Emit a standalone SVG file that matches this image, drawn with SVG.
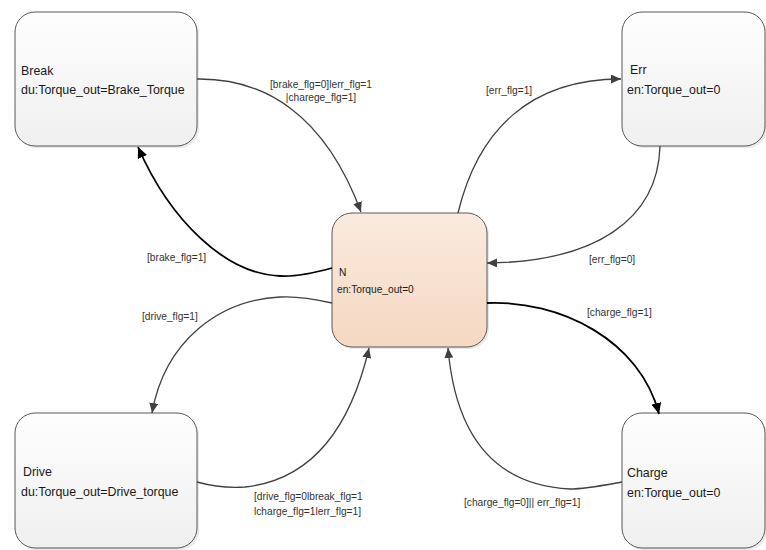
<svg xmlns="http://www.w3.org/2000/svg" width="766" height="550" viewBox="0 0 766 550">
<style>
.box{stroke:#595959;stroke-width:1}
.gray{fill:url(#gGray)}
.peach{fill:url(#gPeach)}
.shadow{fill:#c8c8c8;opacity:0.4}
.nt{font-family:"Liberation Sans",Arial,sans-serif;font-size:12.4px;fill:#1a1a1a}
.ns{font-family:"Liberation Sans",Arial,sans-serif;font-size:10.2px;fill:#1a1a1a}
.lb{font-family:"Liberation Sans",Arial,sans-serif;font-size:10.2px;fill:#333}
.c{fill:none;stroke:#404040;stroke-width:1.3;marker-end:url(#ah)}
.cb{fill:none;stroke:#000;stroke-width:1.8;marker-end:url(#ahb)}
</style>
<defs>
<linearGradient id="gGray" x1="0" y1="0" x2="0" y2="1">
<stop offset="0" stop-color="#fefefe"/><stop offset="1" stop-color="#efefef"/>
</linearGradient>
<linearGradient id="gPeach" x1="0" y1="0" x2="0" y2="1">
<stop offset="0" stop-color="#faeadf"/><stop offset="1" stop-color="#f5d8c1"/>
</linearGradient>
<marker id="ah" markerWidth="10" markerHeight="9" refX="10" refY="4.5" orient="auto" markerUnits="userSpaceOnUse">
<path d="M0,0 L10,4.5 L0,9 Z" fill="#404040"/>
</marker>
<marker id="ahb" markerWidth="11" markerHeight="10" refX="11" refY="5" orient="auto" markerUnits="userSpaceOnUse">
<path d="M0,0 L11,5 L0,10 Z" fill="#000"/>
</marker>
</defs>
<rect width="766" height="550" fill="#fff"/>

<g id="node-break">
<rect class="shadow" x="17" y="14" width="182" height="134" rx="20"/>
<rect class="box gray" x="15" y="12" width="182" height="134" rx="20"/>
<text class="nt" x="21" y="75">Break</text>
<text class="nt" x="21" y="94">du:Torque_out=Brake_Torque</text>
</g>
<g id="node-err">
<rect class="shadow" x="624" y="14" width="143" height="134" rx="20"/>
<rect class="box gray" x="622" y="12" width="143" height="134" rx="20"/>
<text class="nt" x="630" y="74">Err</text>
<text class="nt" x="627" y="94">en:Torque_out=0</text>
</g>
<g id="node-n">
<rect class="shadow" x="334" y="215" width="155" height="134" rx="20"/>
<rect class="box peach" x="332" y="213" width="155" height="134" rx="20"/>
<text class="ns" x="339" y="276">N</text>
<text class="ns" x="337" y="293">en:Torque_out=0</text>
</g>
<g id="node-drive">
<rect class="shadow" x="17" y="415" width="182" height="135" rx="20"/>
<rect class="box gray" x="15" y="413" width="182" height="135" rx="20"/>
<text class="nt" x="23" y="476">Drive</text>
<text class="nt" x="21" y="496">du:Torque_out=Drive_torque</text>
</g>
<g id="node-charge">
<rect class="shadow" x="624" y="415" width="143" height="135" rx="20"/>
<rect class="box gray" x="622" y="413" width="143" height="135" rx="20"/>
<text class="nt" x="627" y="477">Charge</text>
<text class="nt" x="627" y="497">en:Torque_out=0</text>
</g>

<g id="connectors">
<path class="c" d="M197,79 C265,78 325,115 361,212"/>
<path class="cb" d="M332,268 C310,274 295,277 280,276 C225,274 170,220 138,147"/>
<path class="c" d="M458,213 C478,130 530,79 621,79"/>
<path class="c" d="M660,146 C658,220 595,262 487,263"/>
<path class="c" d="M332,303 C310,298 295,296 280,297 C220,300 165,340 152,413"/>
<path class="c" d="M197,482 C215,487 230,488 245,487 C310,480 350,430 369,348"/>
<path class="cb" d="M487,303 C560,300 640,340 659,414"/>
<path class="c" d="M622,482 C600,486 585,489 570,489 C490,485 455,430 448,348"/>
<text class="lb" x="321" y="88" text-anchor="middle">[brake_flg=0]lerr_flg=1</text>
<text class="lb" x="321" y="101" text-anchor="middle">|charege_flg=1]</text>
<text class="lb" x="486" y="94">[err_flg=1]</text>
<text class="lb" x="147" y="261">[brake_flg=1]</text>
<text class="lb" x="589" y="263">[err_flg=0]</text>
<text class="lb" x="142" y="320">[drive_flg=1]</text>
<text class="lb" x="587" y="316">[charge_flg=1]</text>
<text class="lb" x="254" y="500">[drive_flg=0lbreak_flg=1</text>
<text class="lb" x="254" y="515">lcharge_flg=1lerr_flg=1]</text>
<text class="lb" x="464" y="506">[charge_flg=0]|| err_flg=1]</text>
</g>
</svg>
